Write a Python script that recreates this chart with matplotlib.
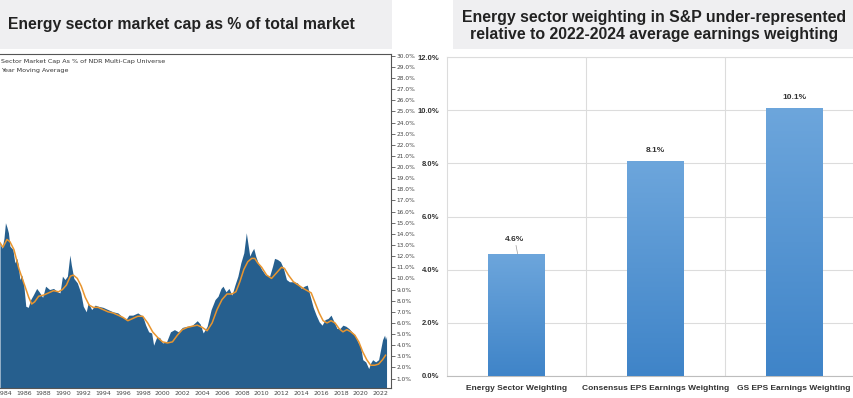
import matplotlib.pyplot as plt
import matplotlib.patches as patches
from matplotlib.colors import LinearSegmentedColormap
from matplotlib.ticker import StrMethodFormatter
import numpy as np

years = [1983.6, 1983.8, 1984.0, 1984.15, 1984.3, 1984.45, 1984.6, 1984.9, 1985.1, 1985.3,
         1985.45, 1985.6, 1985.8, 1986.0, 1986.2, 1986.45, 1986.7, 1986.95, 1987.3, 1987.55,
         1987.9, 1988.2, 1988.6, 1989.0, 1989.4, 1989.65, 1989.9, 1990.15, 1990.4, 1990.65,
         1990.8, 1991.05, 1991.4, 1991.75, 1992.0, 1992.3, 1992.5, 1992.85, 1993.2, 1993.5,
         1994.0, 1994.5, 1995.0, 1995.5, 1996.0, 1996.3, 1996.6, 1997.0, 1997.5, 1998.0,
         1998.3, 1998.6, 1998.9, 1999.1, 1999.4, 1999.7, 2000.0, 2000.4, 2000.8, 2001.2,
         2001.6, 2002.0, 2002.5, 2003.0, 2003.5, 2003.8, 2004.1, 2004.5, 2004.9, 2005.3,
         2005.6, 2005.9, 2006.1, 2006.4, 2006.7, 2007.0, 2007.3, 2007.6, 2007.9, 2008.2,
         2008.45, 2008.6, 2008.8, 2009.0, 2009.2, 2009.4, 2009.6, 2010.0, 2010.4, 2010.8,
         2011.1, 2011.3, 2011.6, 2011.9, 2012.2, 2012.5, 2012.8, 2013.2, 2013.6, 2014.0,
         2014.3, 2014.6, 2014.9, 2015.2, 2015.5, 2015.8, 2016.1, 2016.4, 2016.7, 2017.0,
         2017.3, 2017.6, 2017.9, 2018.2, 2018.5, 2018.8, 2019.1, 2019.4, 2019.7, 2020.0,
         2020.2, 2020.5, 2020.8, 2021.0, 2021.2, 2021.5, 2021.8, 2022.0, 2022.2, 2022.4,
         2022.5, 2022.6]
share = [13.2, 12.7, 13.6, 15.0, 14.6, 14.1, 12.9, 12.6, 11.4, 11.8,
         11.2, 9.9, 10.3, 9.4, 7.5, 7.4, 8.1, 8.5, 9.1, 8.8,
         8.3, 9.3, 9.0, 9.1, 8.8, 8.7, 10.2, 9.9, 10.2, 12.1,
         11.2, 10.0, 9.6, 8.7, 7.5, 7.0, 7.8, 7.2, 7.6, 7.5,
         7.4, 7.2, 7.0, 6.9, 6.5, 6.3, 6.7, 6.7, 6.9, 6.6,
         5.8, 5.2, 5.1, 4.0, 4.7, 4.7, 4.2, 4.3, 5.2, 5.4,
         5.2, 5.6, 5.7, 5.8, 6.2, 5.9, 5.1, 5.7, 7.2, 8.1,
         8.4, 9.1, 9.3, 8.8, 9.1, 8.5, 9.4, 10.2, 11.4, 12.3,
         14.1, 13.2, 12.0, 12.4, 12.7, 12.0, 11.5, 10.8, 10.3, 10.2,
         11.1, 11.8, 11.7, 11.5, 10.9, 9.9, 9.7, 9.7, 9.6, 9.1,
         9.3, 9.4, 8.4, 7.4, 6.7, 6.1, 5.8, 6.3, 6.4, 6.7,
         6.1, 5.5, 5.5, 5.8, 5.7, 5.5, 5.2, 4.9, 4.3, 3.8,
         2.7, 2.5, 1.9, 2.4, 2.7, 2.5, 2.7, 3.6, 4.5, 4.9,
         4.5, 4.8]

# moving average line
avg_years = [1983.6, 1983.9, 1984.3, 1984.6, 1985.0, 1985.5, 1986.0, 1986.5, 1986.8, 1987.1,
             1987.5, 1988.0, 1988.5, 1989.0, 1989.5, 1989.9, 1990.3, 1990.7, 1991.0, 1991.4,
             1991.8, 1992.2, 1992.6, 1993.0, 1993.5, 1994.0, 1994.5, 1995.0, 1995.5, 1996.0,
             1996.5, 1997.0, 1997.5, 1998.0, 1998.5, 1999.0, 1999.5, 2000.0, 2000.5, 2001.0,
             2001.5, 2002.0, 2002.5, 2003.0, 2003.5, 2004.0, 2004.5, 2005.0, 2005.5, 2006.0,
             2006.5, 2007.0, 2007.4, 2007.8, 2008.2, 2008.6, 2009.0, 2009.3, 2009.6, 2010.0,
             2010.5, 2011.0, 2011.5, 2012.0, 2012.3, 2012.7, 2013.2, 2013.7, 2014.2, 2014.6,
             2015.0, 2015.4, 2015.8, 2016.2, 2016.6, 2017.0, 2017.4, 2017.8, 2018.2, 2018.6,
             2019.0, 2019.4, 2019.8, 2020.2, 2020.6, 2021.0, 2021.4, 2021.8, 2022.2, 2022.5]
avg_share = [13.2, 12.8, 13.5, 13.3, 12.6, 10.9, 9.6, 8.3, 7.7, 7.9,
             8.4, 8.5, 8.7, 8.9, 8.8, 9.0, 9.4, 10.2, 10.3, 10.0,
             9.3, 8.3, 7.6, 7.4, 7.4, 7.2, 7.0, 6.9, 6.7, 6.5,
             6.2, 6.4, 6.6, 6.6, 6.0, 5.2, 4.7, 4.3, 4.2, 4.3,
             4.9, 5.4, 5.6, 5.7, 5.8, 5.6, 5.3, 6.0, 7.2, 8.1,
             8.6, 8.6, 8.8, 9.7, 10.8, 11.5, 11.8, 11.8, 11.4, 11.0,
             10.3, 10.0, 10.5, 11.0, 10.9, 10.3, 9.7, 9.4, 9.1, 8.9,
             8.7, 7.8, 6.9, 6.2, 6.0, 6.2, 6.0, 5.5, 5.2, 5.4,
             5.2, 4.9, 4.3, 3.4, 2.7, 2.2, 2.2, 2.3, 2.7, 3.1]

# ---- S&P weighting vs earnings weighting (%) ----
categories = ['Energy Sector Weighting', 'Consensus EPS Earnings Weighting',
              'GS EPS Earnings Weighting']
weights = [4.6, 8.1, 10.1]

W, H = 854, 398
fig = plt.figure(figsize=(W / 100, H / 100), dpi=100)
fig.set_facecolor('white')

def box(x0, y0, x1, y1):
    '''pixel box measured from the top-left -> figure-fraction rect'''
    return [x0 / W, 1 - y1 / H, (x1 - x0) / W, (y1 - y0) / H]

narrow = ['Liberation Sans Narrow', 'Liberation Sans', 'DejaVu Sans']

# ---- grey header bars ----
for x0, x1 in [(0, 392), (453, 854)]:
    fig.patches.append(patches.Rectangle((x0 / W, 1 - 48.5 / H), (x1 - x0) / W, 48.5 / H,
                                         transform=fig.transFigure, facecolor='#efeff1',
                                         edgecolor='none', zorder=0))

fig.text(8 / W, 1 - 24 / H, 'Energy sector market cap as % of total market',
         fontsize=11.3, fontweight='bold', family='Liberation Sans', color='#222222',
         ha='left', va='center')
fig.text(654 / W, 1 - 26 / H,
         'Energy sector weighting in S&P under-represented\nrelative to 2022-2024 average earnings weighting',
         fontsize=11.4, fontweight='bold', family='Liberation Sans', color='#222222',
         ha='center', va='center', linespacing=1.2)

# ---- left: area chart ----
ax1 = fig.add_axes(box(0, 54, 391, 387.5))
ax1.fill_between(years, share, 0, color='#265f8e', lw=0)
ax1.plot(avg_years, avg_share, color='#e8952f', lw=1.1)
ax1.set_xlim(1983.6, 2023.05)
ax1.set_ylim(0.2, 30.16)

ax1.yaxis.tick_right()
ax1.set_yticks(range(1, 31))
ax1.yaxis.set_major_formatter(StrMethodFormatter('{x:.1f}%'))
ax1.set_xticks(range(1984, 2023, 2))
ax1.tick_params(axis='y', direction='out', length=3, width=0.6, color='#555555',
                labelsize=4.2, labelcolor='#444444', pad=1.2)
ax1.tick_params(axis='x', length=0, labelsize=4.5, labelcolor='#444444', pad=2.5)
ax1.spines['left'].set_visible(False)
for s in ['top', 'right', 'bottom']:
    ax1.spines[s].set_color('#555555')
    ax1.spines[s].set_linewidth(0.8)

ax1.text(1 / 391, 0.979, 'Sector Market Cap As % of NDR Multi-Cap Universe',
         transform=ax1.transAxes, fontsize=4.6, color='#333333', va='center', ha='left')
ax1.text(1 / 391, 0.952, 'Year Moving Average',
         transform=ax1.transAxes, fontsize=4.6, color='#333333', va='center', ha='left')

# ---- right: bar chart ----
ax2 = fig.add_axes(box(446.7, 57, 854, 376))
xpos = np.arange(len(categories))
bars = ax2.bar(xpos, weights, width=0.41, color='#5596d6', zorder=2)

# vertical fade on every bar, light at top and deeper at the base
fade = LinearSegmentedColormap.from_list('fade', ['#3f84c8', '#6da6dc'])
grad = np.linspace(0, 1, 256).reshape(-1, 1)
for b in bars:
    im = ax2.imshow(grad, extent=[b.get_x(), b.get_x() + b.get_width(), 0, b.get_height()],
                    origin='lower', aspect='auto', cmap=fade, zorder=3)
    im.set_clip_path(b)

for i, v in enumerate(weights):
    if i == 0:
        ax2.annotate(f'{v}%', xy=(i + 0.01, v), xytext=(-2, 8), textcoords='offset points',
                     ha='center', va='bottom', fontsize=6, fontweight='bold', family=narrow,
                     color='#333333',
                     arrowprops=dict(arrowstyle='-', color='#9a9a9a', lw=0.5,
                                     shrinkA=0, shrinkB=0))
    else:
        ax2.annotate(f'{v}%', xy=(i, v), xytext=(0, 4.5), textcoords='offset points',
                     ha='center', va='bottom', fontsize=6, fontweight='bold', family=narrow,
                     color='#333333')

ax2.set_xlim(-0.5, 2.43)
ax2.set_ylim(0, 12)
ax2.set_yticks(range(0, 13, 2))
ax2.yaxis.set_major_formatter(StrMethodFormatter('{x:.1f}%'))
ax2.set_xticks(xpos)
ax2.set_xticklabels(categories)
for lab in ax2.get_xticklabels() + ax2.get_yticklabels():
    lab.set_fontweight('bold')
    lab.set_family(narrow)
    lab.set_fontsize(6)
    lab.set_color('#333333')
for lab in ax2.get_yticklabels():
    lab.set_fontsize(5.5)
ax2.tick_params(axis='y', length=0, pad=5.5)
ax2.tick_params(axis='x', length=0, pad=6.5)

ax2.set_axisbelow(True)
ax2.yaxis.grid(True, color='#dcdcdc', lw=0.8)
for sep in xpos[:-1] + 0.5:
    ax2.axvline(sep, color='#dcdcdc', lw=0.8, zorder=0)
ax2.spines['right'].set_visible(False)
for s in ['top', 'left']:
    ax2.spines[s].set_color('#dcdcdc')
    ax2.spines[s].set_linewidth(0.8)
ax2.spines['bottom'].set_color('#bdbdbd')
ax2.spines['bottom'].set_linewidth(0.8)

fig.savefig('out.png', dpi=100)
